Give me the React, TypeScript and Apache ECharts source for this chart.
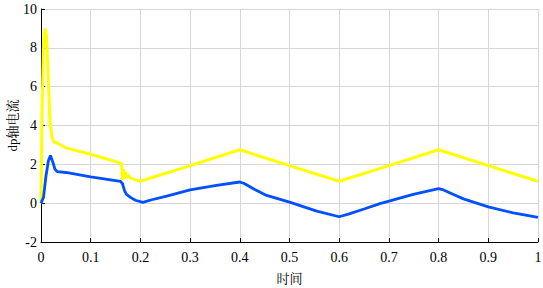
import React, { useEffect, useRef } from "react";
import * as echarts from "echarts";

const xTicks = [0, 0.1, 0.2, 0.3, 0.4, 0.5, 0.6, 0.7, 0.8, 0.9, 1];
const yTicks = [-2, 0, 2, 4, 6, 8, 10];

const yellowT = [0, 0.002, 0.005, 0.008, 0.011, 0.015, 0.018, 0.022, 0.026, 0.032, 0.05, 0.1, 0.162, 0.164, 0.166, 0.168, 0.170, 0.172, 0.175, 0.18, 0.19, 0.2, 0.3, 0.4, 0.5, 0.6, 0.7, 0.8, 0.9, 1];
const yellowV = [0, 4.5, 8.2, 9.0, 8.6, 6.2, 4.2, 3.4, 3.15, 3.1, 2.85, 2.52, 2.05, 1.2, 1.75, 1.25, 1.6, 1.3, 1.45, 1.3, 1.2, 1.13, 1.93, 2.75, 1.93, 1.13, 1.93, 2.75, 1.93, 1.13];

const blueT = [0, 0.005, 0.01, 0.015, 0.019, 0.024, 0.028, 0.033, 0.05, 0.1, 0.16, 0.164, 0.168, 0.172, 0.18, 0.19, 0.205, 0.219, 0.253, 0.3, 0.353, 0.4, 0.41, 0.43, 0.454, 0.5, 0.555, 0.6, 0.62, 0.65, 0.682, 0.72, 0.749, 0.8, 0.81, 0.83, 0.85, 0.9, 0.95, 1];
const blueV = [0, 0.3, 1.4, 2.2, 2.45, 2.1, 1.75, 1.62, 1.58, 1.35, 1.12, 1.0, 0.65, 0.45, 0.3, 0.15, 0.04, 0.15, 0.36, 0.68, 0.92, 1.09, 1.0, 0.7, 0.4, 0.05, -0.41, -0.7, -0.55, -0.3, -0.02, 0.25, 0.45, 0.75, 0.68, 0.45, 0.22, -0.19, -0.5, -0.73];

const pairs = (t: number[], v: number[]) => t.map((x, i) => [x, v[i]]);

export default function App() {
  const ref = useRef<HTMLDivElement>(null);
  useEffect(() => {
    const chart = echarts.init(ref.current!, null, { renderer: "svg" });
    const font = "'Liberation Serif', 'Times New Roman', serif";
    chart.setOption({
      animation: false,
      backgroundColor: "#ffffff",
      textStyle: { fontFamily: font },
      grid: { left: 41, right: 5, top: 9, bottom: 46, containLabel: false, outerBoundsMode: "none" },
      xAxis: {
        type: "value",
        min: xTicks[0],
        max: xTicks[xTicks.length - 1],
        interval: 0.1,
        name: "时间",
        nameLocation: "middle",
        nameGap: 29,
        nameMoveOverlap: false,
        nameTextStyle: { fontFamily: "'Noto Serif CJK SC', 'Noto Sans CJK SC', serif", fontSize: 13, color: "#000" },
        axisLine: { show: true, onZero: false, lineStyle: { color: "#000", width: 1 } },
        axisTick: { show: true, inside: true, length: 4, lineStyle: { color: "#000" } },
        axisLabel: {
          fontFamily: font,
          fontSize: 14,
          color: "#000",
          margin: 8,
          formatter: (v: number) => String(Math.round(v * 10) / 10),
        },
        splitLine: { show: true, lineStyle: { color: "#d6d6d6", width: 1 } },
      },
      yAxis: {
        type: "value",
        min: yTicks[0],
        max: yTicks[yTicks.length - 1],
        interval: 2,
        name: "dp轴电流",
        nameLocation: "middle",
        nameGap: 22,
        nameMoveOverlap: false,
        nameTextStyle: { fontFamily: "'Liberation Serif', 'Noto Serif CJK SC', 'Noto Sans CJK SC', serif", fontSize: 13, color: "#000" },
        axisLine: { show: true, onZero: false, lineStyle: { color: "#000", width: 1 } },
        axisTick: { show: true, inside: true, length: 4, lineStyle: { color: "#000" } },
        axisLabel: { fontFamily: font, fontSize: 14, color: "#000", margin: 4 },
        splitLine: { show: true, lineStyle: { color: "#d6d6d6", width: 1 } },
      },
      series: [
        {
          type: "line",
          data: pairs(yellowT, yellowV),
          showSymbol: false,
          lineStyle: { color: "#ffff00", width: 3 },
          z: 2,
        },
        {
          type: "line",
          data: pairs(blueT, blueV),
          showSymbol: false,
          lineStyle: { color: "#0050ff", width: 2.8 },
          z: 3,
        },
      ],
    });
    return () => chart.dispose();
  }, []);
  return (
    <div
      ref={ref}
      style={{ position: "fixed", left: 0, top: 0, width: 543, height: 288 }}
    />
  );
}
